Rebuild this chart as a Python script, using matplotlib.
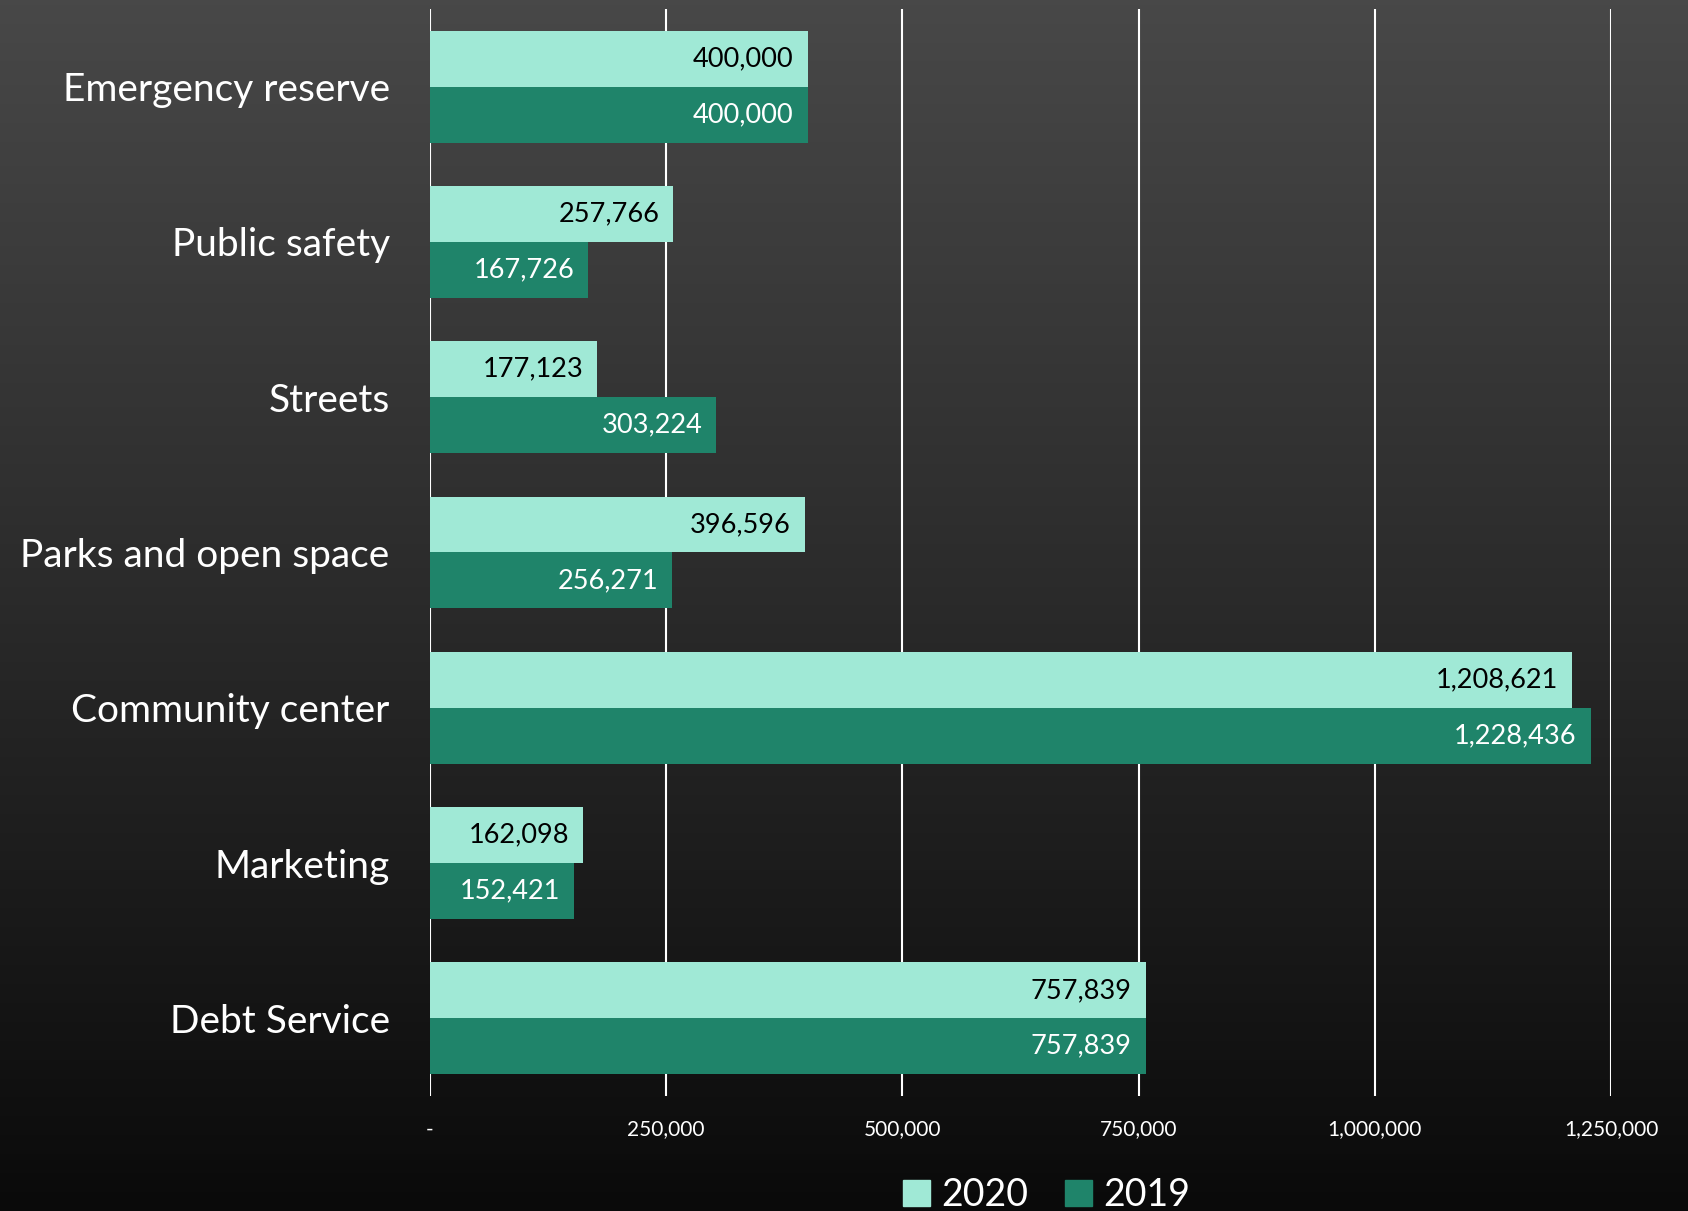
import numpy as np
import matplotlib
matplotlib.use("Agg")
import matplotlib.pyplot as plt
from matplotlib.colors import LinearSegmentedColormap
from matplotlib.patches import Patch
from matplotlib.ticker import FuncFormatter

plt.rcParams['font.family'] = ['Lato', 'DejaVu Sans']

categories = ['Emergency reserve', 'Public safety', 'Streets', 'Parks and open space',
              'Community center', 'Marketing', 'Debt Service']
values_2020 = [400000, 257766, 177123, 396596, 1208621, 162098, 757839]
values_2019 = [400000, 167726, 303224, 256271, 1228436, 152421, 757839]
series_names = ['2020', '2019']
tick_values = [0, 250000, 500000, 750000, 1000000, 1250000]

light = '#a0e9d6'
dark = '#1f846a'

fig = plt.figure(figsize=(16.88, 12.11), dpi=100)

# dark vertical gradient behind everything
bg = fig.add_axes([0, 0, 1, 1], zorder=0)
grad = np.linspace(0, 1, 256).reshape(-1, 1)
cmap = LinearSegmentedColormap.from_list('bg', ['#484848', '#2a2a2a', '#0a0a0a'])
bg.imshow(grad, aspect='auto', cmap=cmap, extent=[0, 1, 0, 1])
bg.axis('off')

ax = fig.add_axes([0.2547, 0.095, 0.6997, 0.8976], zorder=1)
ax.set_facecolor('none')

n = len(categories)
y = np.arange(n)[::-1]
h = 0.36
ax.barh(y + h / 2, values_2020, height=h, color=light, zorder=3)
ax.barh(y - h / 2, values_2019, height=h, color=dark, zorder=3)

pad = 15000
for yi, v in zip(y, values_2020):
    ax.text(v - pad, yi + h / 2, f'{v:,}', ha='right', va='center',
            fontsize=19.5, color='black', zorder=4)
for yi, v in zip(y, values_2019):
    ax.text(v - pad, yi - h / 2, f'{v:,}', ha='right', va='center',
            fontsize=19.5, color='white', zorder=4)

ax.set_xlim(0, 1250000)
ax.set_ylim(-0.5, n - 0.5)
ax.set_xticks(tick_values)
ax.xaxis.set_major_formatter(FuncFormatter(lambda x, p: '-' if x == 0 else f'{int(x):,}'))
ax.set_yticks(y)
ax.set_yticklabels(categories)
for t in tick_values:
    ax.axvline(t, color='white', lw=1.5, zorder=1)

ax.tick_params(axis='x', length=0, pad=17, labelsize=15, labelcolor='white')
ax.tick_params(axis='y', length=0, pad=29, labelsize=28, labelcolor='white')
for s in ax.spines.values():
    s.set_visible(False)

handles = [Patch(color=light), Patch(color=dark)]
leg = fig.legend(handles, series_names, loc='center', bbox_to_anchor=(0.62, 0.013),
                 ncol=2, frameon=False, fontsize=27, handlelength=0.7, handleheight=0.7,
                 handletextpad=0.3, columnspacing=1.0, labelcolor='white')

fig.savefig('out.png', dpi=100)
